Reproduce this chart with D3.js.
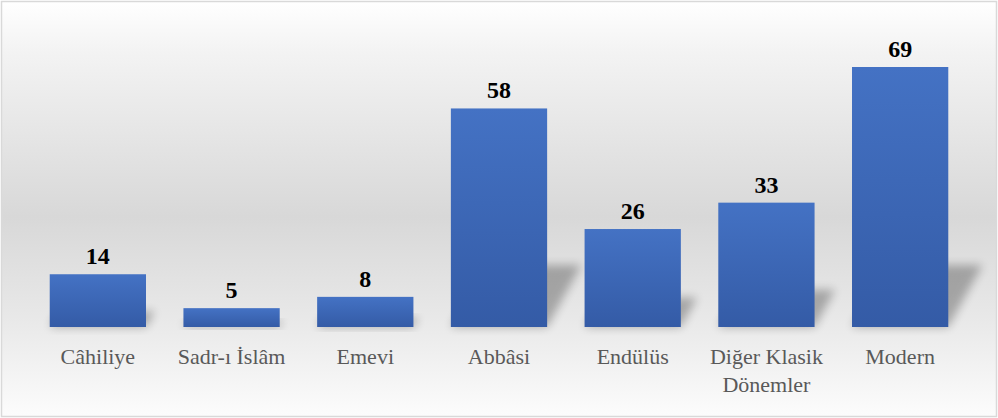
<!DOCTYPE html>
<html lang="tr">
<head>
<meta charset="UTF-8">
<title>Dönemler</title>
<script src="https://d3js.org/d3.v7.min.js"></script>
<style>
  html, body { margin: 0; padding: 0; background: #fff; }
  svg { display: block; }
</style>
</head>
<body>
<div class="chart"></div>
<script>
// data
const categories = ['Câhiliye', 'Sadr-ı İslâm', 'Emevi', 'Abbâsi', 'Endülüs', 'Diğer Klasik Dönemler', 'Modern'];
const values = [14, 5, 8, 58, 26, 33, 69];
const labelLines = [['Câhiliye'], ['Sadr-ı İslâm'], ['Emevi'], ['Abbâsi'], ['Endülüs'], ['Diğer Klasik', 'Dönemler'], ['Modern']];

const W = 998, H = 418;
const margin = { left: 31, right: 31, top: 0, bottom: 91 };
const baseY = H - margin.bottom;

const svg = d3.select('.chart').append('svg')
    .attr('width', W)
    .attr('height', H);

const defs = svg.append('defs');

// background gradient (white -> gray -> white)
const bg = defs.append('linearGradient').attr('id', 'bg')
    .attr('x1', 0).attr('y1', 0).attr('x2', 0).attr('y2', 1);
bg.append('stop').attr('offset', '0%').attr('stop-color', '#ffffff');
bg.append('stop').attr('offset', '12%').attr('stop-color', '#f3f3f3');
bg.append('stop').attr('offset', '52%').attr('stop-color', '#d8d8d8');
bg.append('stop').attr('offset', '76%').attr('stop-color', '#e8e8e8');
bg.append('stop').attr('offset', '100%').attr('stop-color', '#fcfcfc');

const barGrad = defs.append('linearGradient').attr('id', 'barGrad')
    .attr('x1', 0).attr('y1', 0).attr('x2', 0).attr('y2', 1);
barGrad.append('stop').attr('offset', '0%').attr('stop-color', '#4472c4');
barGrad.append('stop').attr('offset', '100%').attr('stop-color', '#345ba6');

const blur = defs.append('filter').attr('id', 'blur')
    .attr('x', '-50%').attr('y', '-50%').attr('width', '200%').attr('height', '200%');
blur.append('feGaussianBlur').attr('stdDeviation', 5);

svg.append('rect')
    .attr('x', 1.5).attr('y', 1.5)
    .attr('width', W - 3).attr('height', H - 3)
    .attr('fill', 'url(#bg)')
    .attr('stroke', '#d9d9d9')
    .attr('stroke-width', 1.5);

// scales
const x = d3.scaleBand()
    .domain(categories)
    .range([margin.left, W - margin.right])
    .paddingInner(0.28)
    .paddingOuter(0.14);

const y = d3.scaleLinear()
    .domain([0, 69])
    .range([baseY, 67]);

const g = svg.append('g');

// perspective shadows
g.selectAll('.shadow')
    .data(values)
    .join('path')
    .attr('class', 'shadow')
    .attr('d', (d, i) => {
        const x0 = x(categories[i]);
        const w = x.bandwidth();
        const h = Math.min((baseY - y(d)) * 0.3, 62);
        const sk = h * 0.55;
        return `M${x0},${baseY} L${x0 + w},${baseY} L${x0 + w + sk},${baseY - h} L${x0 + sk},${baseY - h} Z`;
    })
    .attr('fill', '#000')
    .attr('opacity', 0.28)
    .attr('filter', 'url(#blur)');

// bars
g.selectAll('.bar')
    .data(values)
    .join('rect')
    .attr('class', 'bar')
    .attr('x', (d, i) => x(categories[i]))
    .attr('y', d => y(d))
    .attr('width', x.bandwidth())
    .attr('height', d => baseY - y(d))
    .attr('fill', 'url(#barGrad)');

// value labels
g.selectAll('.val')
    .data(values)
    .join('text')
    .attr('class', 'val')
    .attr('x', (d, i) => x(categories[i]) + x.bandwidth() / 2)
    .attr('y', d => y(d) - 10)
    .attr('text-anchor', 'middle')
    .style('font-family', '"Liberation Serif", "Times New Roman", serif')
    .style('font-weight', 'bold')
    .style('font-size', '24px')
    .attr('fill', '#000')
    .text(d => d);

// category labels
const cat = g.selectAll('.cat')
    .data(labelLines)
    .join('text')
    .attr('class', 'cat')
    .attr('x', (d, i) => x(categories[i]) + x.bandwidth() / 2)
    .attr('y', baseY + 37)
    .attr('text-anchor', 'middle')
    .style('font-family', '"Liberation Serif", "Times New Roman", serif')
    .style('font-size', '22px')
    .attr('fill', '#595959');

cat.selectAll('tspan')
    .data(d => d)
    .join('tspan')
    .attr('x', function () { return d3.select(this.parentNode).attr('x'); })
    .attr('dy', (d, i) => i === 0 ? 0 : 28)
    .text(d => d);
</script>
</body>
</html>
